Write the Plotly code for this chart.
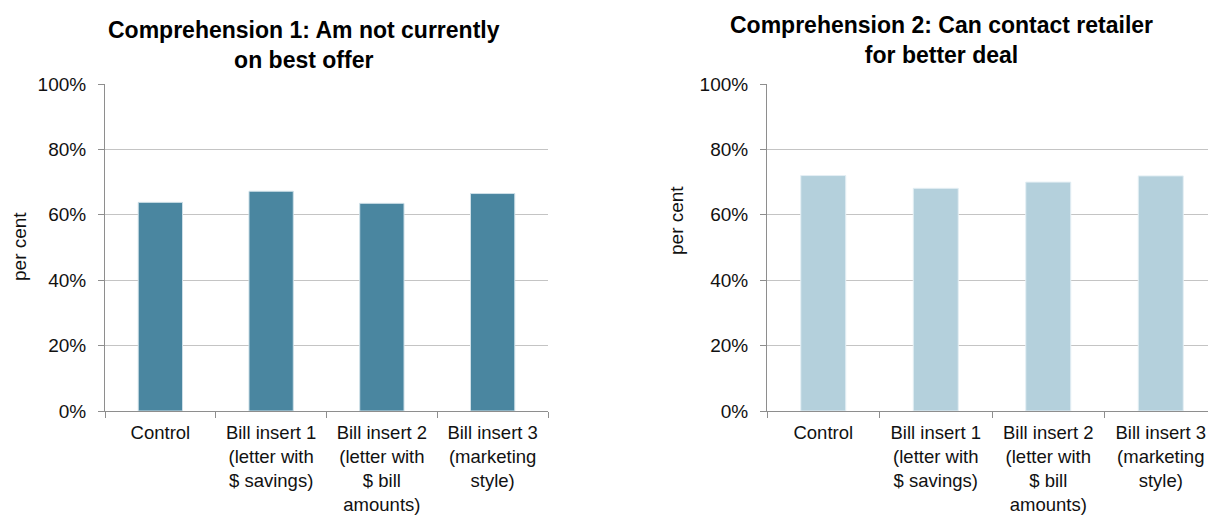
import plotly.graph_objects as go

# Survey categories (tick labels wrap over several lines)
categories = ["Control", "Bill insert 1", "Bill insert 2", "Bill insert 3"]
tick_labels = [
    "Control",
    "Bill insert 1<br>(letter with<br>$ savings)",
    "Bill insert 2<br>(letter with<br>$ bill<br>amounts)",
    "Bill insert 3<br>(marketing<br>style)",
]

# Share of respondents (fraction) for each comprehension question
comp1_values = [0.638, 0.672, 0.635, 0.665]
comp2_values = [0.720, 0.681, 0.700, 0.719]

title1 = "Comprehension 1: Am not currently<br>on best offer"
title2 = "Comprehension 2: Can contact retailer<br>for better deal"

W, H = 1208, 516
FONT = "Liberation Sans, Arial, sans-serif"
GRID = "#c4c4c4"
AXIS = "#8e8e8e"


def px_x(x):
    return x / W


def px_y(y):
    return 1 - y / H


fig = go.Figure()
fig.add_trace(go.Bar(
    x=categories, y=comp1_values, width=0.4,
    marker=dict(color="#4a86a0", line=dict(color="#cfe0e8", width=1)),
    xaxis="x", yaxis="y", showlegend=False,
))
fig.add_trace(go.Bar(
    x=categories, y=comp2_values, width=0.4,
    marker=dict(color="#b4d0dc", line=dict(color="#e4eff4", width=1)),
    xaxis="x2", yaxis="y2", showlegend=False,
))

ydom = [px_y(411), px_y(84)]

xcommon = dict(
    type="category", showline=True, linecolor=AXIS, linewidth=1,
    ticks="outside", ticklen=6, tickcolor=AXIS, tickson="boundaries",
    showgrid=False, zeroline=False, automargin=False,
    tickmode="array", tickvals=categories, ticktext=tick_labels,
    tickfont=dict(family=FONT, size=18.5, color="#111111"),
    ticklabelstandoff=5, tickangle=0,
)
ycommon = dict(
    range=[0, 1], tickvals=[0, 0.2, 0.4, 0.6, 0.8, 1.0], tickformat=".0%",
    showline=True, linecolor=AXIS, linewidth=1,
    ticks="outside", ticklen=6, tickcolor=AXIS,
    showgrid=True, gridcolor=GRID, gridwidth=1, zeroline=False,
    tickfont=dict(family=FONT, size=19, color="#111111"),
    ticklabelstandoff=8, domain=ydom, automargin=False,
)

fig.update_layout(
    width=W, height=H,
    margin=dict(l=0, r=0, t=0, b=0, autoexpand=False),
    paper_bgcolor="white", plot_bgcolor="white",
    bargap=0.6,
    xaxis=dict(domain=[px_x(105), px_x(548)], range=[-0.5, 3.5], anchor="y", **xcommon),
    yaxis=dict(anchor="x", **ycommon),
    xaxis2=dict(domain=[px_x(767), 1.0], range=[-0.5, 3.42], anchor="y2", **xcommon),
    yaxis2=dict(anchor="x2", **ycommon),
)

annotations = [
    dict(text=title1, x=px_x(304), y=px_y(45), xref="paper", yref="paper",
         xanchor="center", yanchor="middle", showarrow=False,
         font=dict(family=FONT, size=23, color="#000000", weight="bold")),
    dict(text=title2, x=px_x(941), y=px_y(40), xref="paper", yref="paper",
         xanchor="center", yanchor="middle", showarrow=False,
         font=dict(family=FONT, size=23, color="#000000", weight="bold")),
    dict(text="per cent", x=px_x(20), y=px_y(247), xref="paper", yref="paper",
         xanchor="center", yanchor="middle", showarrow=False, textangle=-90,
         font=dict(family=FONT, size=19, color="#111111")),
    dict(text="per cent", x=px_x(676), y=px_y(221), xref="paper", yref="paper",
         xanchor="center", yanchor="middle", showarrow=False, textangle=-90,
         font=dict(family=FONT, size=19, color="#111111")),
]
fig.update_layout(annotations=annotations)

fig.write_html("out.html")
